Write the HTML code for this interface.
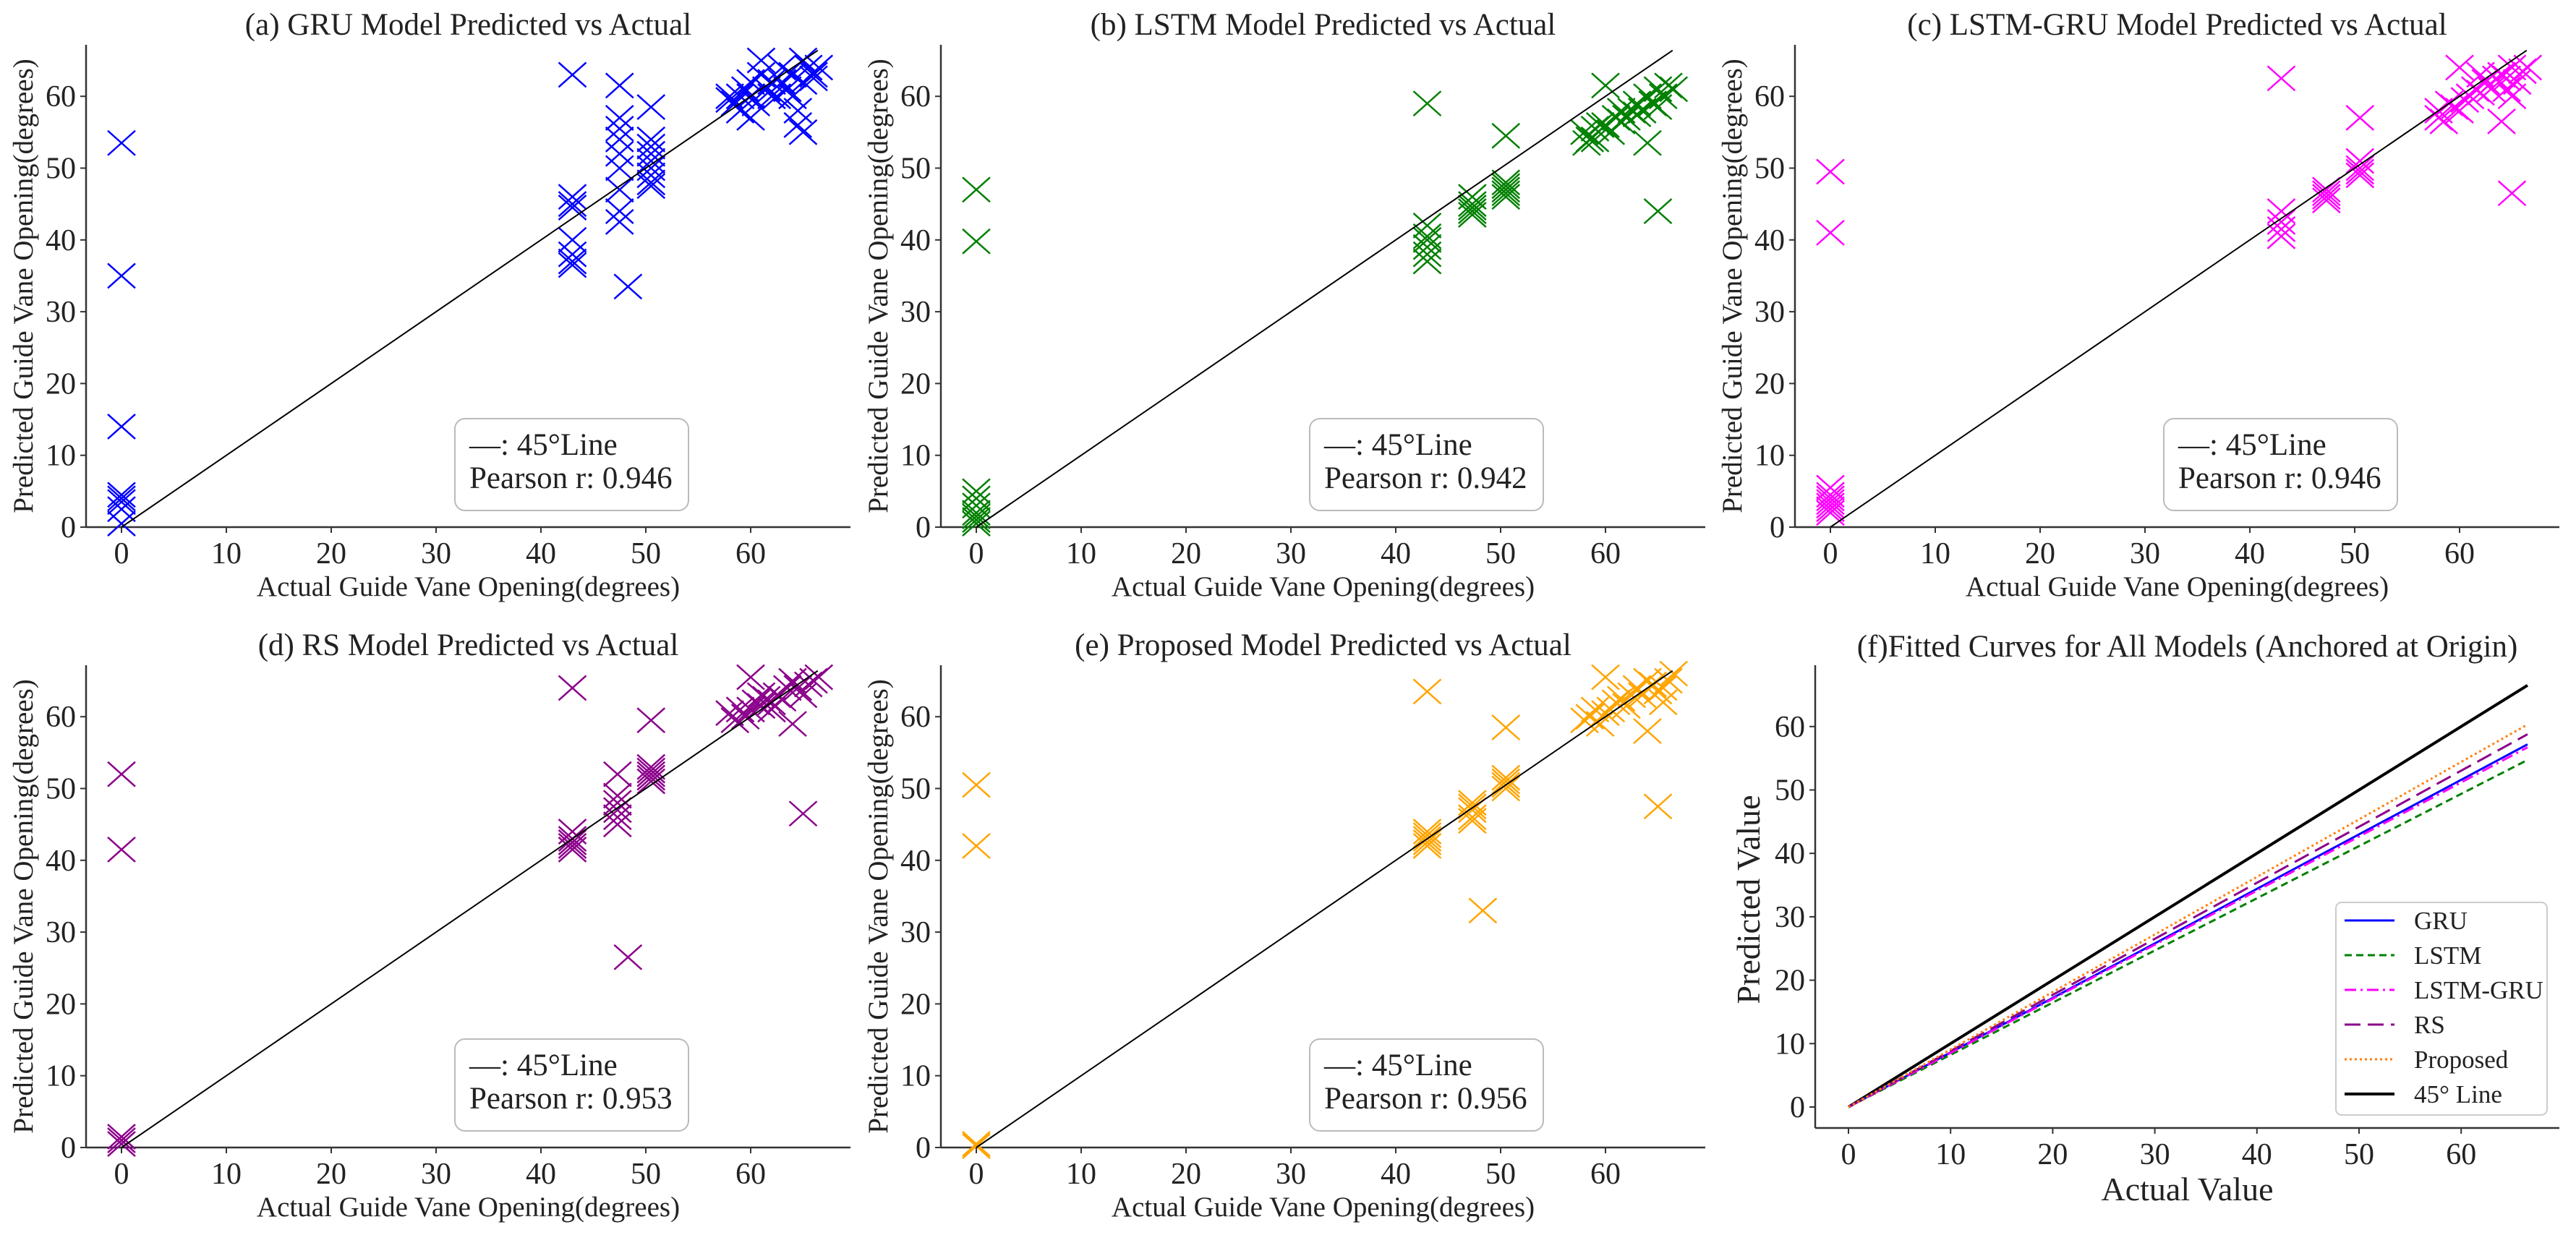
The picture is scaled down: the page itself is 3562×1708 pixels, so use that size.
<!DOCTYPE html>
<html><head><meta charset="utf-8">
<style>
html,body{margin:0;padding:0;background:#fff;}
svg{display:block;font-family:"Liberation Serif","DejaVu Serif",serif;}
</style></head>
<body>
<svg id="fig" width="3562" height="1708" viewBox="0 0 3562 1708" xmlns="http://www.w3.org/2000/svg"></svg>
<script>
// ---------- DATA ----------
const tickValues = [0,10,20,30,40,50,60];
const titles = ["(a) GRU Model Predicted vs Actual","(b) LSTM Model Predicted vs Actual","(c) LSTM-GRU Model Predicted vs Actual","(d) RS Model Predicted vs Actual","(e) Proposed Model Predicted vs Actual"];
const pearson = ["0.946","0.942","0.946","0.953","0.956"];
const colors = ["#0000ff","#008000","#ff00ff","#8b008b","#ffa500"];

const gruX = [0,0,0,0,0,0,0,0, 43,43,43,43,43,43,43,43, 47.5,47.5,47.5,47.5,47.5,47.5,47.5,47.5,47.5,48.3, 50.5,50.5,50.5,50.5,50.5,50.5,50.5,50.5,50.5,
 58,58.5,59,59.5,60,60,60.5,61,61.5,62,62.5,63,63.5,64,64.5,64.5,65,65,65.5,66,66.5,61,65,62,63,64,60,59,58,66];
const gruY = [53.5,35,14,4.5,4,3.5,2.5,0.5, 63,46,45,44.5,40,38,37,36.5, 61.5,57,55.5,54,52,50,47,44,42.5,33.5, 58.5,54,53,52,51,50,49,48,47.5,
 60,59,58,61,57,62,59,63,61,62,60,64,61,60,58,56,55,62,64,63,64,65,65,60,62,63,60,60,59.5,62.5];

const lstmX = [0,0,0,0,0,0,0,0,0, 43,43,43,43,43,43,43, 47.3,47.3,47.3,47.3,47.3, 50.5,50.5,50.5,50.5,50.5,50.5,
 58,58.5,59,59.5,60,60,60.5,61,61.5,62,62.5,63,63.5,64,64,64.5,65,65,65.5,66,66.5,58.2,59,61.5,63,65];
const lstmY = [47,39.8,5,4,3,2,1.5,1,0.5, 59,42,40.5,40,39,38,37, 46,45,44.5,44,43.5, 54.5,48,47.5,47,46.5,46,
 55,54,55.5,56,61.5,56,55,57,58,57,58,59,58,53.5,60,59,44,61,60,61.5,61,53.5,54,56.5,57.5,58.5];

const lgX = [0,0,0,0,0,0,0,0,0, 43,43,43,43,43, 47.3,47.3,47.3,47.3, 50.5,50.5,50.5,50.5,50.5,
 58,58,58.5,59,59.5,60,60,60.5,61,61.5,62,62.5,63,63.5,64,64,64.5,65,65,65,65.5,66,66.5,62,64.5];
const lgY = [49.5,41,5.5,4.5,4,3.5,3,2.5,2, 62.5,44,42.5,41.5,40.5, 47,46.5,46,45.5, 57,51,50,49.5,49,
 58,57,56.5,59,58.5,64,58,59.5,60,61,60.5,62,61,62.5,56.5,63,61,46.5,64,60,62,63.5,64,63,62.5];

const rsX = [0,0,0,0,0, 43,43,43,43,43,43, 47.3,47.3,47.3,47.3,47.3,47.3,48.3, 50.5,50.5,50.5,50.5,50.5,50.5,
 58,58.5,59,59.5,60,60,60.5,61,61.5,62,62.5,63,63.5,64,64,64.5,65,65,65.5,66,66.5,61,62];
const rsY = [52,41.5,1.5,1,0.5, 64,44,43,42.5,42,41.5, 52,49,48,47,46,45,26.5, 59.5,53,52.5,52,51.5,51,
 60.5,59.5,61,60,65.5,61,62,61.5,62.5,62,63,62.5,64,59,65,64,46.5,63,64.5,65,65.5,63,61];

const propX = [0,0,0,0, 43,43,43,43,43,43, 47.3,47.3,47.3,47.3,47.3,48.3, 50.5,50.5,50.5,50.5,50.5,
 58,58.5,59,59.5,60,60,60.5,61,61.5,62,62.5,63,63.5,64,64,64.5,65,65,65.5,66,66.5,65.5];
const propY = [50.5,42,0.5,0.2, 63.5,44,43.5,43,42.5,42, 48,47.5,47,46,45.5,33, 58.5,51.5,51,50.5,50,
 59.5,60,61,59,65.5,60.5,61,62,62.5,61.5,63,64,63,58,65,64.5,47.5,63.5,64,65,66,62];

const seriesX = [gruX,lstmX,lgX,rsX,propX];
const seriesY = [gruY,lstmY,lgY,rsY,propY];

// panel (f)
const fitNames = ["GRU","LSTM","LSTM-GRU","RS","Proposed","45° Line"];
const fitSlopes = [0.86,0.823,0.853,0.884,0.907,1.0];
const fitColors = ["#0000ff","#008000","#ff00ff","#8b008b","#ff7f0e","#000000"];
const fitDash = ["", "10,6", "16,6,3,6", "22,10", "3,4", ""];
const fitXMax = 66.5;

// ---------- DRAW ----------
const NS="http://www.w3.org/2000/svg";
const svg=document.getElementById('fig');
function mk(tag,attrs,parent){const e=document.createElementNS(NS,tag);for(const k in attrs)e.setAttribute(k,attrs[k]);(parent||svg).appendChild(e);return e;}
function txt(s,attrs,parent){const e=mk('text',attrs,parent);e.textContent=s;return e;}

const panels=[
 {x0:168,y0:729,top:62},{x0:1350,y0:729,top:62},{x0:2531,y0:729,top:62},
 {x0:168,y0:1587,top:920},{x0:1350,y0:1587,top:920}
];
panels.forEach((p,i)=>{
  const g=mk('g',{});
  
  
  const sx=v=>p.x0+v*14.5;
  const sy=v=>p.y0-v*9.93;
  const left=p.x0-49,right=p.x0+1008;
  const ax=mk('line',{x1:left,y1:p.y0,x2:right,y2:p.y0,stroke:'#333',"stroke-width":2.5},g);
  
  
  const ay=mk('line',{x1:left,y1:p.top,x2:left,y2:p.y0,stroke:'#333',"stroke-width":2.5},g);
  
  
  tickValues.forEach(t=>{
    mk('line',{x1:sx(t),y1:p.y0,x2:sx(t),y2:p.y0+8,stroke:'#333','stroke-width':2},g);
    const tl=txt(String(t),{x:sx(t),y:p.y0+50,'text-anchor':'middle','font-size':42,fill:'#222'},g);
    
    
    mk('line',{x1:left,y1:sy(t),x2:left-8,y2:sy(t),stroke:'#333','stroke-width':2},g);
    const yl=txt(String(t),{x:left-14,y:sy(t)+14,'text-anchor':'end','font-size':42,fill:'#222'},g);
    
    
  });
  const xs=seriesX[i],ys=seriesY[i];
  for(let k=0;k<xs.length;k++){
    const cx=sx(xs[k]),cy=sy(ys[k]),h=19,v=17;
    const m=mk('path',{d:`M${cx-h} ${cy-v}L${cx+h} ${cy+v}M${cx-h} ${cy+v}L${cx+h} ${cy-v}`,stroke:colors[i],'stroke-width':2.5,fill:'none'},g);
    
    
  }
  const dl=mk('line',{x1:sx(0),y1:sy(0),x2:sx(66.4),y2:sy(66.4),stroke:'#000','stroke-width':2},g);
  
  
  const tt=txt(titles[i],{x:(left+right)/2,y:p.top-14,'text-anchor':'middle','font-size':43,fill:'#222'},g);
  
  
  const xl=txt('Actual Guide Vane Opening(degrees)',{x:(left+right)/2,y:p.y0+95,'text-anchor':'middle','font-size':39,fill:'#222'},g);
  
  
  const cyy=(p.top+p.y0)/2;
  const yt=txt('Predicted Guide Vane Opening(degrees)',{x:0,y:0,'text-anchor':'middle','font-size':39,fill:'#222',transform:`translate(${left-74},${cyy}) rotate(-90)`},g);
  
  
  const bx=p.x0+461,by=p.y0-150;
  const box=mk('rect',{x:bx,y:by,width:323,height:127,rx:14,fill:'#fff',stroke:'#bbb','stroke-width':2},g);
  
  
  const t1=txt('—: 45°Line',{x:bx+20,y:by+50,'font-size':43,fill:'#222'},g);
  
  
  const t2=txt('Pearson r: '+pearson[i],{x:bx+20,y:by+96,'font-size':43,fill:'#222'},g);
  
  
});

(function(){
  const g=mk('g',{});
  
  
  const x0=2556,y0=1531,sxk=14.12,syk=8.77;
  const sx=v=>x0+v*sxk, sy=v=>y0-v*syk;
  const left=2510,bottom=1560,top=920,right=3539;
  const ax=mk('line',{x1:left,y1:bottom,x2:right,y2:bottom,stroke:'#333','stroke-width':2.5},g);
  
  
  const ay=mk('line',{x1:left,y1:top,x2:left,y2:bottom,stroke:'#333','stroke-width':2.5},g);
  
  
  tickValues.forEach(t=>{
    mk('line',{x1:sx(t),y1:bottom,x2:sx(t),y2:bottom+8,stroke:'#333','stroke-width':2},g);
    const tl=txt(String(t),{x:sx(t),y:bottom+50,'text-anchor':'middle','font-size':42,fill:'#222'},g);
    
    
    mk('line',{x1:left,y1:sy(t),x2:left-8,y2:sy(t),stroke:'#333','stroke-width':2},g);
    const yl=txt(String(t),{x:left-14,y:sy(t)+14,'text-anchor':'end','font-size':42,fill:'#222'},g);
    
    
  });
  const order=[5,0,1,2,3,4];
  order.forEach(i=>{
    const a={x1:sx(0),y1:sy(0),x2:sx(fitXMax),y2:sy(fitXMax*fitSlopes[i]),stroke:fitColors[i],'stroke-width':i==5?4:3};
    if(fitDash[i])a['stroke-dasharray']=fitDash[i];
    const l=mk('line',a,g);
    
    
  });
  const tt=txt('(f)Fitted Curves for All Models (Anchored at Origin)',{x:(left+right)/2,y:908,'text-anchor':'middle','font-size':43,fill:'#222'},g);
  
  
  const xl=txt('Actual Value',{x:(left+right)/2,y:1660,'text-anchor':'middle','font-size':46,fill:'#222'},g);
  
  
  const yt=txt('Predicted Value',{x:0,y:0,'text-anchor':'middle','font-size':46,fill:'#222',transform:`translate(2433,1244) rotate(-90)`},g);
  
  
  const lg=mk('g',{},g);
  
  
  mk('rect',{x:3230,y:1248,width:292,height:294,rx:8,fill:'#fff',stroke:'#ccc','stroke-width':2},lg);
  fitNames.forEach((n,i)=>{
    const yy=1273+i*48;
    const a={x1:3242,y1:yy,x2:3311,y2:yy,stroke:fitColors[i],'stroke-width':i==5?4:3};
    if(fitDash[i])a['stroke-dasharray']=fitDash[i];
    mk('line',a,lg);
    const t=txt(n,{x:3338,y:yy+12,'font-size':35,fill:'#222'},lg);
    
    
  });
})();
</script>
</body></html>
